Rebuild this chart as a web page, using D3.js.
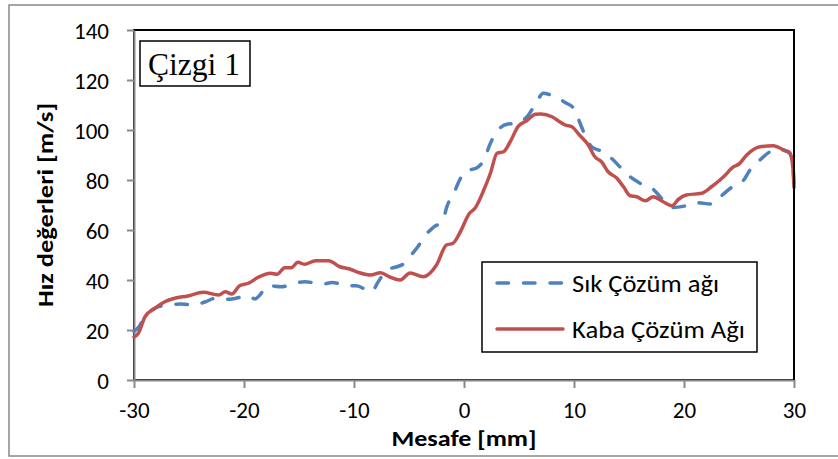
<!DOCTYPE html>
<html>
<head>
<meta charset="utf-8">
<script src="https://cdn.jsdelivr.net/npm/d3@7"></script>
<style>
  html, body { margin: 0; padding: 0; background: #fff; }
  svg { display: block; }
</style>
</head>
<body>
<svg id="chart" width="838" height="459"></svg>
<script>
// ---- Data ----
const sikX = [-30, -29.6, -29, -28.1, -26.9, -25.7, -24.5, -23.5, -22.6, -21.7, -21.1, -19.6, -19.0, -18.7, -17.8, -16.6, -15.4, -14.5, -12.8, -12.0, -10.5, -9.8, -8.4, -7.8, -7.0, -6.1, -5.4, -4.8, -4.2, -3.5, -2.8, -1.9, -1.6, -0.8, -0.4, 0.2, 1.1, 1.8, 2.4, 3.1, 3.9, 4.8, 5.85, 6.7, 7.2, 8.1, 9.2, 10.1, 10.5, 11.0, 11.6, 12.6, 13.4, 14.3, 15.1, 16.0, 17.2, 18.1, 19.0, 20.1, 21.2, 22.5, 23.3, 24.5, 25.3, 26.0, 26.9, 27.8, 28.4, 29.2, 29.6, 29.9, 30];
const sikY = [19.5, 21, 25.3, 28.7, 30, 30.4, 30, 31.3, 32.7, 32.3, 32.4, 33.7, 32.4, 33.3, 37.7, 37.3, 38.7, 39.3, 38.4, 39, 37.7, 37.7, 35.3, 39.3, 44, 45.3, 46.7, 50, 53.3, 58, 61, 64, 68.7, 76, 80, 83.7, 84.7, 88, 94.7, 100, 102.3, 102.7, 106, 112, 114.7, 113.6, 111, 108, 103.3, 98, 93.3, 91.3, 88.7, 84.7, 81.3, 78.7, 76.3, 72, 69, 69.6, 70.9, 70.4, 73.3, 77.6, 79.3, 84, 88, 91.3, 92.7, 91.6, 90.7, 86, 78];

const kabaX = [-30, -29.6, -29, -28.1, -27.2, -26.3, -25.1, -23.7, -22.3, -21.7, -21.1, -20.4, -19.6, -18.7, -17.6, -17.0, -16.3, -15.7, -15.1, -14.5, -13.5, -12.3, -11.3, -10.4, -9.5, -8.5, -7.6, -6.7, -5.8, -4.9, -3.7, -2.5, -1.6, -1.0, -0.4, 0.5, 1.0, 1.8, 2.4, 3.0, 3.6, 4.2, 4.9, 5.7, 6.5, 7.0, 8.0, 8.7, 9.2, 9.8, 10.5, 11.3, 11.9, 12.5, 13.1, 13.9, 14.5, 15.1, 15.7, 16.5, 17.2, 18.1, 18.9, 19.5, 20.2, 21.6, 22.5, 23.6, 24.5, 25.0, 25.7, 26.9, 28.1, 29.1, 29.6, 29.9, 30];
const kabaY = [17.2, 18.7, 25.3, 28.7, 31.3, 32.7, 33.6, 35.1, 34, 35.3, 34.4, 37.7, 38.7, 41.1, 42.7, 42.3, 44.9, 44.9, 47.1, 46.3, 47.7, 47.7, 45.3, 44.4, 42.9, 42, 42.9, 41.1, 40, 42.8, 41.3, 46, 54, 54.7, 58.7, 66.7, 68.7, 76, 82.7, 90.7, 91.3, 95.3, 101.3, 103.7, 106.3, 106.4, 105.3, 103.3, 102, 101.3, 98, 94, 89.3, 87.3, 83.3, 80.7, 77.3, 73.7, 73.3, 71.7, 73.3, 71.3, 69.7, 72.3, 74, 74.7, 77.3, 81.3, 85.3, 86.4, 90, 93.3, 93.7, 92, 91, 85, 77];

const xTicks = [-30, -20, -10, 0, 10, 20, 30];
const xTickLabels = ["-30", "-20", "-10", "0", "10", "20", "30"];
const yTicks = [0, 20, 40, 60, 80, 100, 120, 140];
const seriesNames = ["Sık Çözüm ağı", "Kaba Çözüm Ağı"];
const titleText = "Çizgi 1";
const xTitle = "Mesafe [mm]";
const yTitle = "Hız değerleri [m/s]";

// ---- Layout ----
const svg = d3.select("#chart");
const sans = "Carlito, Calibri, Lato, 'Open Sans', sans-serif";
const pLeft = 134, pRight = 794, pTop = 30, pBottom = 380;
const x = d3.scaleLinear().domain([-30, 30]).range([pLeft, pRight]);
const y = d3.scaleLinear().domain([0, 140]).range([pBottom, pTop]);
const gray = "#898989";
const blue = "#4F81BD", red = "#C0504D";

// outer frame
svg.append("rect").attr("x", 9).attr("y", 5).attr("width", 840).attr("height", 451)
  .attr("fill", "#fff").attr("stroke", gray).attr("stroke-width", 1.5);

// plot area border (black)
svg.append("rect").attr("x", pLeft).attr("y", pTop).attr("width", pRight - pLeft).attr("height", pBottom - pTop)
  .attr("fill", "none").attr("stroke", "#000").attr("stroke-width", 2);

// axes
const yAxis = d3.axisLeft(y).tickValues(yTicks).tickFormat(d => String(d))
  .tickSize(7).tickSizeOuter(0).tickPadding(18);
const xAxis = d3.axisBottom(x).tickValues(xTicks).tickFormat((d, i) => xTickLabels[i])
  .tickSize(8).tickSizeOuter(0).tickPadding(14);

const gy = svg.append("g").attr("transform", `translate(${pLeft},0)`).call(yAxis);
const gx = svg.append("g").attr("transform", `translate(0,${pBottom})`).call(xAxis);
[gx, gy].forEach(g => {
  g.select(".domain").attr("stroke", gray).attr("stroke-width", 2);
  g.selectAll(".tick line").attr("stroke", gray).attr("stroke-width", 2);
  g.selectAll(".tick text").attr("fill", "#000").style("font-family", sans).style("font-size", "23px");
});
gy.selectAll(".tick text").attr("dy", "0.36em");
gx.selectAll(".tick text").attr("dy", "0.71em");

// lines
const line = d3.line().x(d => x(d[0])).y(d => y(d[1])).curve(d3.curveMonotoneX);
const sikData = sikX.map((v, i) => [v, sikY[i]]);
const kabaData = kabaX.map((v, i) => [v, kabaY[i]]);

svg.append("path").datum(sikData).attr("d", line).attr("fill", "none")
  .attr("stroke", blue).attr("stroke-width", 3.5).attr("stroke-dasharray", "11.5,15")
  .attr("stroke-linecap", "round").attr("stroke-linejoin", "round");
svg.append("path").datum(kabaData).attr("d", line).attr("fill", "none")
  .attr("stroke", red).attr("stroke-width", 3.5)
  .attr("stroke-linecap", "round").attr("stroke-linejoin", "round");

// redraw right border on top
svg.append("line").attr("x1", pRight).attr("x2", pRight).attr("y1", pTop).attr("y2", pBottom)
  .attr("stroke", "#000").attr("stroke-width", 2);

// title box
svg.append("rect").attr("x", 140).attr("y", 41).attr("width", 110).attr("height", 45)
  .attr("fill", "#fff").attr("stroke", "#000").attr("stroke-width", 1.5);
svg.append("text").attr("x", 148).attr("y", 75).text(titleText)
  .style("font-family", "'Liberation Serif', 'Times New Roman', serif").style("font-size", "31px")
  .attr("textLength", 92).attr("lengthAdjust", "spacingAndGlyphs");

// legend
const lg = svg.append("g");
lg.append("rect").attr("x", 482).attr("y", 262).attr("width", 275).attr("height", 90)
  .attr("fill", "#fff").attr("stroke", "#000").attr("stroke-width", 1.5);
const legendRows = [
  { name: seriesNames[0], color: blue, dash: "11.5,15", yy: 283, len: 147 },
  { name: seriesNames[1], color: red, dash: null, yy: 329, len: 173 }
];
legendRows.forEach(r => {
  lg.append("line").attr("x1", 497).attr("x2", 563).attr("y1", r.yy).attr("y2", r.yy)
    .attr("stroke", r.color).attr("stroke-width", 3.5).attr("stroke-linecap", "round")
    .attr("stroke-dasharray", r.dash);
  lg.append("text").attr("x", 572).attr("y", r.yy + 9).text(r.name)
    .style("font-family", sans).style("font-size", "24px")
    .attr("textLength", r.len).attr("lengthAdjust", "spacingAndGlyphs");
});

// axis titles
svg.append("text").attr("x", 464).attr("y", 446).attr("text-anchor", "middle").text(xTitle)
  .style("font-family", sans).style("font-size", "22px").style("font-weight", "bold")
  .attr("textLength", 145).attr("lengthAdjust", "spacingAndGlyphs");
svg.append("text").attr("transform", "translate(53,205) rotate(-90)").attr("text-anchor", "middle")
  .text(yTitle).style("font-family", sans).style("font-size", "22px").style("font-weight", "bold")
  .attr("textLength", 204).attr("lengthAdjust", "spacingAndGlyphs");
</script>
</body>
</html>
